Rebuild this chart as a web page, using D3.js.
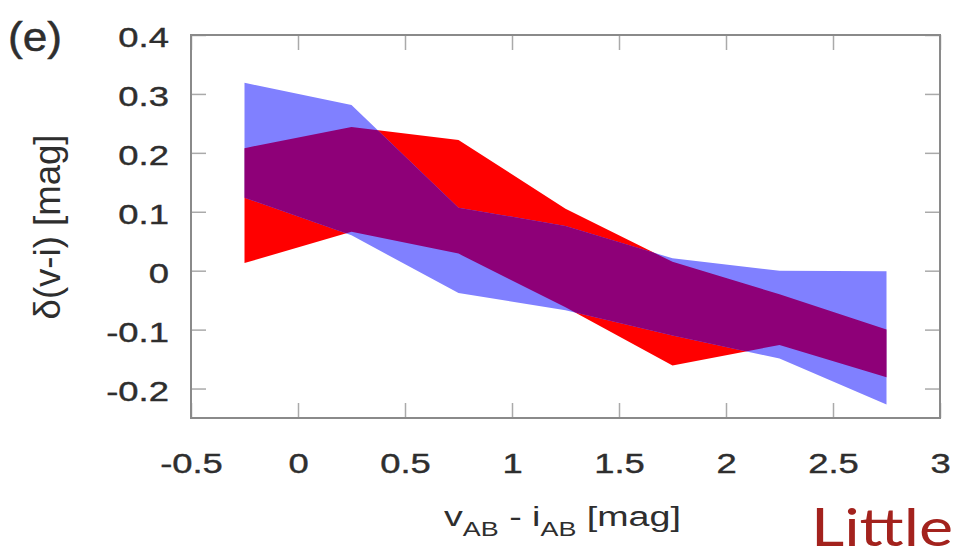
<!DOCTYPE html>
<html>
<head>
<meta charset="utf-8">
<script src="https://cdn.jsdelivr.net/npm/d3@7"></script>
<style>
    body { margin: 0; background: #fff; }
    .chart text { font-family: "Liberation Sans", Arial, sans-serif; fill: #2e2e2e; }
    .axis text { font-size: 28px; stroke: #2e2e2e; stroke-width: 0.4px; }
</style>
</head>
<body>
<svg class="chart" width="977" height="551"></svg>
<script>
// bin centres in v-i colour, and the band limits of the two samples
const xBins = [-0.25, 0.25, 0.75, 1.25, 1.75, 2.25, 2.75];
const redUpper = [0.208, 0.244, 0.222, 0.105, 0.015, -0.040, -0.100];
const redLower = [0.013, 0.066, 0.029, -0.062, -0.161, -0.126, -0.181];
const blueUpper = [0.319, 0.281, 0.107, 0.076, 0.021, 0.000, -0.001];
const blueLower = [0.124, 0.060, -0.038, -0.067, -0.110, -0.149, -0.227];

const xTicks = [-0.5, 0, 0.5, 1, 1.5, 2, 2.5, 3];
const yTicks = [-0.2, -0.1, 0, 0.1, 0.2, 0.3, 0.4];

const box = {left: 191, right: 940, top: 35, bottom: 418};
const tickLen = 15;
const stretch = 1.3; // glyphs in the figure are drawn wider than normal

const svg = d3.select(".chart");

const x = d3.scaleLinear()
    .domain([-0.5, 3])
    .range([box.left, box.right]);

const y = d3.scaleLinear()
    .domain([-0.25, 0.4])
    .range([box.bottom, box.top]);

const band = (upper, lower) => d3.area()
    .x((d, i) => x(xBins[i]))
    .y0((d, i) => y(lower[i]))
    .y1((d, i) => y(upper[i]))(xBins);

svg.append('clipPath')
    .attr('id', 'red-band')
    .append('path')
    .attr('d', band(redUpper, redLower));

svg.append('path')
    .attr('d', band(redUpper, redLower))
    .style('fill', '#ff0000');

svg.append('path')
    .attr('d', band(blueUpper, blueLower))
    .style('fill', '#8080ff');

// where the two bands overlap
svg.append('path')
    .attr('d', band(blueUpper, blueLower))
    .attr('clip-path', 'url(#red-band)')
    .style('fill', '#8e0078');

const fmt = (d) => String(+d.toFixed(1));

function styleAxis(g) {
    g.select('.domain').remove();
    g.selectAll('.tick line')
        .style('stroke', '#aaa')
        .style('stroke-width', 1.5);
}

svg.append('g')
    .attr('class', 'axis')
    .attr('transform', `translate(0,${box.bottom})`)
    .call(d3.axisBottom(x).tickValues(xTicks).tickFormat(fmt).tickSizeInner(-tickLen).tickSizeOuter(0))
    .call(styleAxis)
    .selectAll('text')
    .attr('y', 55)
    .attr('dy', null)
    .attr('transform', `scale(${stretch},1)`);

svg.append('g')
    .attr('class', 'axis')
    .attr('transform', `translate(${box.left},0)`)
    .call(d3.axisLeft(y).tickValues(yTicks).tickFormat(fmt).tickSizeInner(-tickLen).tickSizeOuter(0))
    .call(styleAxis)
    .selectAll('text')
    .attr('x', -17)
    .attr('dy', '0.42em')
    .attr('transform', `scale(${stretch},1)`);

svg.append('g')
    .attr('class', 'axis')
    .attr('transform', `translate(0,${box.top})`)
    .call(d3.axisTop(x).tickValues(xTicks).tickFormat('').tickSizeInner(-tickLen).tickSizeOuter(0))
    .call(styleAxis);

svg.append('g')
    .attr('class', 'axis')
    .attr('transform', `translate(${box.right},0)`)
    .call(d3.axisRight(y).tickValues(yTicks).tickFormat('').tickSizeInner(-tickLen).tickSizeOuter(0))
    .call(styleAxis);

svg.append('rect')
    .attr('x', box.left)
    .attr('y', box.top)
    .attr('width', box.right - box.left)
    .attr('height', box.bottom - box.top)
    .style('fill', 'none')
    .style('stroke', '#8a8a8a')
    .style('stroke-width', 2);

// squeeze a text to a given width, left edge at (left, baseline)
function fitWidth(sel, left, baseline, width) {
    const w = sel.node().getBBox().width;
    sel.attr('transform', `translate(${left},${baseline}) scale(${width / w},1)`);
}

const xLabel = svg.append('text').style('font-size', '28px');
xLabel.append('tspan').text('v');
xLabel.append('tspan').attr('dy', 10).style('font-size', '20px').text('AB');
xLabel.append('tspan').attr('dy', -10).text(' - i');
xLabel.append('tspan').attr('dy', 10).style('font-size', '20px').text('AB');
xLabel.append('tspan').attr('dy', -10).text(' [mag]');
fitWidth(xLabel, 444, 526, 237);

svg.append('text')
    .attr('transform', `translate(51,227) scale(1.25,1) rotate(-90)`)
    .attr('text-anchor', 'middle')
    .attr('dy', '0.26em')
    .attr('textLength', 185)
    .attr('lengthAdjust', 'spacingAndGlyphs')
    .style('font-size', '29px')
    .text('δ(v-i) [mag]');

const panel = svg.append('text')
    .style('font-size', '40px')
    .style('stroke', '#2e2e2e')
    .style('stroke-width', '0.5px')
    .text('(e)');
fitWidth(panel, 8, 51, 54);

const note = svg.append('text')
    .style('font-family', 'Lato, "Open Sans", sans-serif')
    .style('font-size', '53px')
    .style('fill', '#a3221d')
    .text('Little');
fitWidth(note, 811, 546, 142);
</script>
</body>
</html>
